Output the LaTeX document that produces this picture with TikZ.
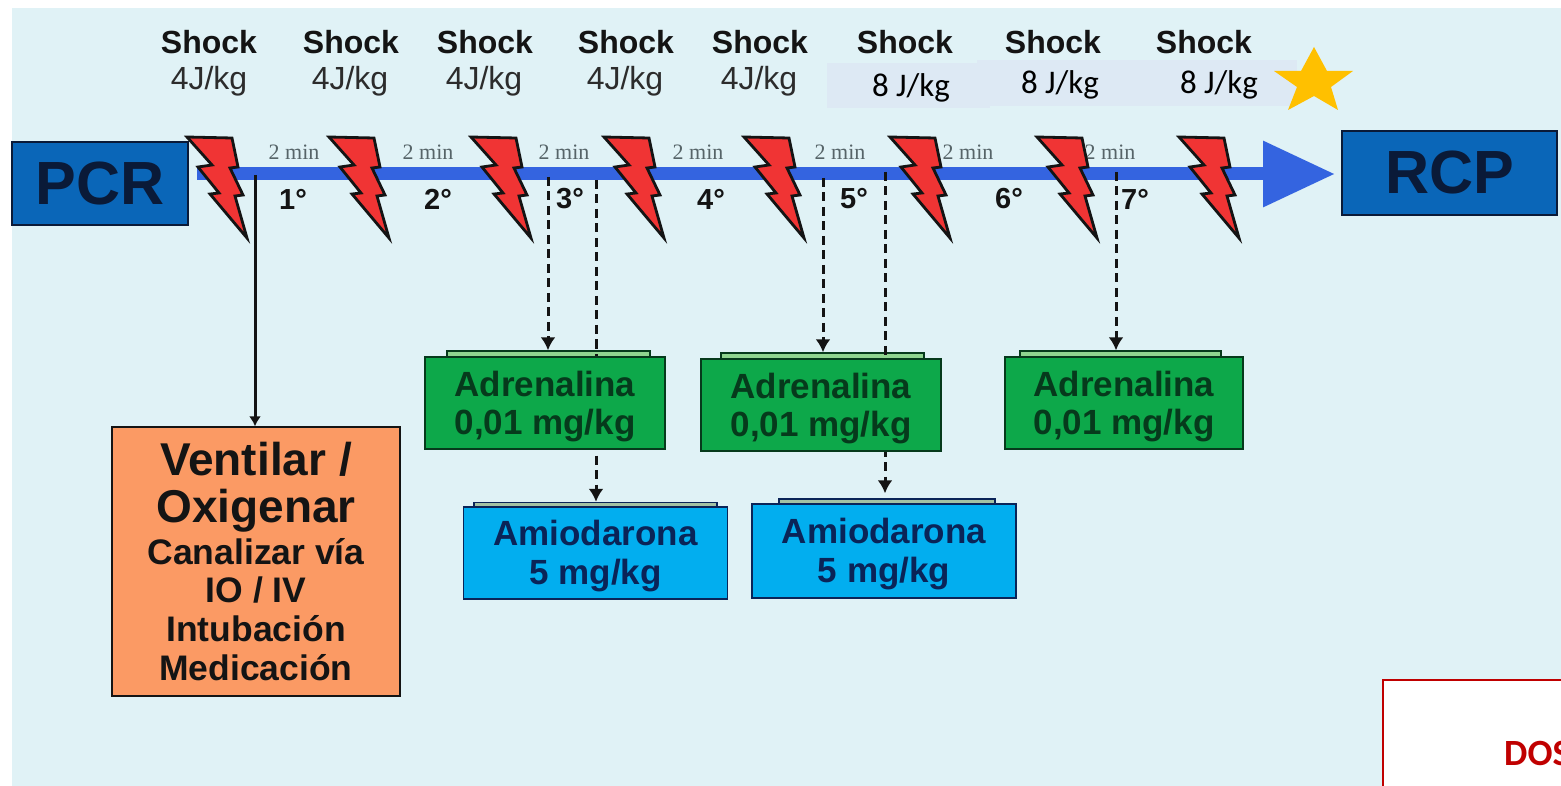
\documentclass[tikz,border=0pt]{standalone}
\usepackage{fontspec}
\setmainfont{Liberation Sans}
\newfontfamily\carl{Carlito}
\newfontfamily\libserif{Liberation Serif}
\usetikzlibrary{arrows.meta}
\definecolor{bgc}{HTML}{E0F2F6}
\definecolor{blk}{HTML}{141414}
\definecolor{boxblue}{HTML}{0A66B8}
\definecolor{navy}{HTML}{0A1A38}
\definecolor{grn}{HTML}{0DA84A}
\definecolor{grntxt}{HTML}{063A1C}
\definecolor{sky}{HTML}{02AEEF}
\definecolor{skytxt}{HTML}{0A2458}
\definecolor{orng}{HTML}{FB9A64}
\definecolor{boltred}{HTML}{F03434}
\definecolor{barblue}{HTML}{3464E0}
\definecolor{band}{HTML}{DDE9F4}
\definecolor{star}{HTML}{FFC000}
\definecolor{redb}{HTML}{C00000}
\definecolor{mingray}{HTML}{566468}
\newcommand{\fs}[1]{\fontsize{#1}{#1}\selectfont}
\newcommand{\dnstrut}{\rule{0pt}{32pt}}
\tikzset{
  x=1pt,y=-1pt,
  flatbox/.style={draw=#1,line width=1.4pt,inner sep=0pt,align=center},
  endbox/.style={flatbox=navy,fill=boxblue,text=navy,font=\bfseries\fs{61}},
  grnbox/.style={flatbox=grntxt,fill=grn,text=grntxt,font=\bfseries\fontsize{35}{38}\selectfont,minimum width=240pt,minimum height=92pt},
  skybox/.style={flatbox=skytxt,fill=sky,text=skytxt,font=\bfseries\fontsize{35}{39}\selectfont,minimum width=264pt,minimum height=93pt},
  tabg/.style={flatbox=grntxt,fill=green!45!gray!60,minimum height=6pt},
  tabb/.style={flatbox=skytxt,fill=green!20!gray!60,minimum height=5pt},
  shocklab/.style={text=blk,font=\bfseries\fs{32},inner sep=0pt},
  joule/.style={text=blk!90,font=\fs{32},inner sep=0pt},
  joulec/.style={text=black,font=\carl\fs{33},inner sep=0pt},
  minlab/.style={text=mingray,font=\libserif\fs{22},inner sep=0pt},
  ordlab/.style={text=blk,font=\bfseries\fs{29},inner sep=0pt},
  ventbig/.style={inner sep=0pt,text=blk,font=\bfseries\fs{46}},
  ventsmall/.style={inner sep=0pt,text=blk,font=\bfseries\fs{35.5}},
  solidcon/.style={draw=blk,line width=3pt,-{Latex[length=10pt,width=12pt]}},
  dashcon/.style={draw=blk,line width=3pt,dash pattern=on 9pt off 5.5pt,-{Latex[length=13pt,width=15pt]}},
  boltst/.style={draw=blk,fill=boltred,line width=2.8pt,line join=miter},
}
\begin{document}
\begin{tikzpicture}
\useasboundingbox (0,0) rectangle (1561,786);
\clip (0,0) rectangle (1561,786);
\fill[bgc] (12,8) rectangle (1561,786);
% band behind the 8 J/kg labels
\fill[band] (827,63) rectangle (990,108);
\fill[band] (977,60) rectangle (1297,106);
% end boxes
\node[endbox,minimum width=176pt,minimum height=83pt] (pcr) at (100,183.5) {PCR};
\node[endbox,minimum width=215pt,minimum height=84pt] (rcp) at (1449.5,173) {RCP};
% coordinates on the bar
\coordinate (bs) at (197,174);
\coordinate (be) at (1335,174);
\coordinate (c1) at (255,175);
\coordinate (c3a) at (548,177);
\coordinate (c3b) at (596,180);
\coordinate (c5a) at (823,178);
\coordinate (c5b) at (885,172);
\coordinate (c7a) at (1116,172);
% boxes (positions) 
\node[flatbox=blk,fill=orng,minimum width=288pt,minimum height=269pt] (vent) at (256,561.5) {};
\node[tabg,minimum width=203pt] (t1) at (548.5,354) {};
\node[tabg,minimum width=203pt] (t2) at (822.5,356) {};
\node[tabg,minimum width=201pt] (t3) at (1120.5,354) {};
\node[tabb,minimum width=243pt] (t4) at (595.5,505) {};
\node[tabb,minimum width=216pt] (t5) at (887,501.5) {};
% bar
\draw[barblue,line width=13pt,-{Triangle[length=72pt,width=63pt]}] (bs) -- (be);
% connectors
\draw[solidcon] (c1) -- (vent.north -| c1);
\draw[dashcon] (c3a) -- (t1.north -| c3a);
\draw[dashcon] (c5a) -- (t2.north -| c5a);
\draw[dashcon] (c7a) -- (t3.north -| c7a);
\draw[dashcon] (c3b) -- (t4.north -| c3b);
\draw[dashcon,shorten >=5pt] (c5b) -- (t5.north -| c5b);
% drug boxes
\node[grnbox] (a1) at (545,403) {\dnstrut Adrenalina\\0,01 mg/kg};
\node[grnbox] (a2) at (821,405) {\dnstrut Adrenalina\\0,01 mg/kg};
\node[grnbox,minimum width=238pt] (a3) at (1124,403) {\dnstrut Adrenalina\\0,01 mg/kg};
\node[skybox,minimum height=92pt] (m1) at (595.5,553) {\dnstrut Amiodarona\\5 mg/kg};
\node[skybox,minimum height=94pt] (m2) at (884,551) {\dnstrut Amiodarona\\5 mg/kg};
% ventilar text
\node[ventbig] (v1) at (256,459) {Ventilar /};
\node[ventbig] (v2) at (256,511) {Oxigenar};
\node[ventsmall] (v3) at (256,552) {Canalizar vía};
\node[ventsmall] (v4) at (256,590) {IO / IV};
\node[ventsmall] (v5) at (256,629) {Intubación};
\node[ventsmall] (v6) at (256,668) {Medicación};
% top labels
\foreach \n/\x in {1/209,2/351,3/485,4/626,5/760,6/905,7/1053,8/1204}
  \node[shocklab] (s\n) at (\x,42) {Shock};
\foreach \n/\x in {1/209,2/350,3/484,4/625,5/759}
  \node[joule] (j\n) at (\x,81) {4J/kg};
\node[joulec] (j6) at (911,88) {8 J/kg};
\node[joulec] (j7) at (1060,85) {8 J/kg};
\node[joulec] (j8) at (1219,85) {8 J/kg};
% star
\fill[star] (1314,47) -- (1327,71) -- (1353,71) -- (1331,87) -- (1338,110) -- (1314,96) -- (1288,110) -- (1297,87) -- (1274,71) -- (1301,71) -- cycle;
% 2 min
\foreach \n/\x in {1/294,2/428,3/564,4/698,5/840,6/968,7/1110}
  \node[minlab] (m\n x) at (\x,152) {2 min};
% ordinals
\foreach \n/\x/\l in {1/293/1°,2/438/2°,3/570/3°,4/711/4°,5/854/5°,6/1009/6°,7/1135/7°}
  \node[ordlab] (o\n) at (\x,199) {\l};
% bolts
\foreach \x in {187,329,471,604,744,890,1037,1179}
  \draw[boltst,shift={(\x,0)}] (0,137) -- (45,138) -- (51,167) -- (43,168) -- (56,195) -- (48,196) -- (60,238) -- (23,194) -- (32,193) -- (11,167) -- (25,165) -- cycle;
% red box
\draw[redb,line width=2.6pt,fill=white] (1383,680) rectangle (1600,830);
\node[anchor=base west,inner sep=0pt,text=redb,font=\carl\bfseries\fs{37}] (dos) at (1504,765) {DOS};
\end{tikzpicture}
\end{document}
